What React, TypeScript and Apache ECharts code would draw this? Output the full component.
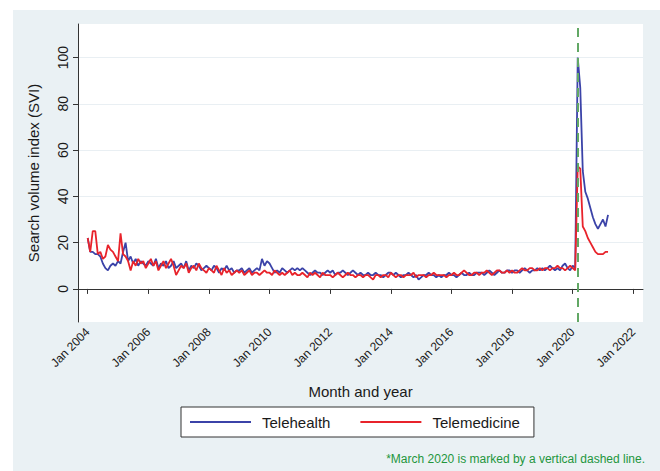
import React, { useEffect, useRef } from "react";
import * as echarts from "echarts";

// Monthly Google Trends search volume index, Jan 2004 – Mar 2021
const START_YEAR = 2004;
const START_MONTH = 1;

const telehealth: number[] = [
  // 2004
  22, 16, 16, 15, 15, 14, 11, 9, 8, 10, 11, 10,
  // 2005
  12, 11, 16, 20, 12, 14, 11, 13, 10, 12, 11, 10,
  // 2006
  12, 11, 10, 13, 9, 11, 10, 12, 9, 10, 12, 9,
  // 2007
  10, 11, 9, 12, 8, 10, 9, 11, 10, 8, 9, 10,
  // 2008
  9, 8, 10, 9, 7, 9, 8, 10, 8, 9, 7, 8,
  // 2009
  8, 9, 7, 8, 9, 7, 8, 9, 8, 13, 10, 12,
  // 2010
  11, 9, 7, 8, 7, 9, 8, 7, 8, 9, 8, 9,
  // 2011
  8, 9, 8, 7, 6, 7, 8, 7, 7, 6, 7, 8,
  // 2012
  7, 8, 6, 7, 7, 8, 7, 6, 7, 8, 7, 6,
  // 2013
  7, 6, 6, 7, 6, 6, 7, 6, 6, 5, 6, 7,
  // 2014
  7, 6, 7, 6, 5, 6, 6, 7, 6, 5, 6, 4,
  // 2015
  5, 6, 6, 7, 6, 6, 5, 6, 5, 6, 6, 7,
  // 2016
  6, 6, 5, 6, 7, 6, 6, 7, 6, 6, 7, 7,
  // 2017
  7, 6, 7, 8, 7, 6, 7, 8, 7, 7, 8, 8,
  // 2018
  7, 8, 8, 7, 8, 9, 8, 7, 8, 8, 9, 8,
  // 2019
  9, 8, 9, 10, 9, 8, 9, 8, 10, 11, 9, 8,
  // 2020
  10, 9, 100, 87, 51, 42, 39, 35, 31, 28, 26, 28,
  // 2021
  30, 27, 32,
];

const telemedicine: number[] = [
  // 2004
  22, 16, 25, 25, 15, 16, 13, 14, 19, 17, 16, 14,
  // 2005
  12, 24, 15, 14, 12, 8, 12, 10, 13, 11, 12, 9,
  // 2006
  11, 13, 10, 12, 8, 10, 12, 9, 11, 13, 10, 6,
  // 2007
  8, 10, 9, 11, 7, 9, 10, 8, 11, 9, 8, 7,
  // 2008
  9, 8, 7, 10, 8, 6, 9, 7, 8, 6, 7, 8,
  // 2009
  7, 8, 6, 7, 8, 6, 7, 7, 6, 7, 8, 7,
  // 2010
  7, 6, 8, 7, 6, 7, 6, 7, 8, 6, 7, 6,
  // 2011
  6, 7, 6, 5, 7, 6, 7, 6, 5, 7, 6, 6,
  // 2012
  6, 5, 6, 7, 6, 5, 6, 7, 6, 6, 5, 6,
  // 2013
  6, 5, 6, 6, 5, 4, 6, 6, 5, 6, 6, 5,
  // 2014
  7, 6, 5, 6, 6, 5, 6, 6, 6, 7, 5, 6,
  // 2015
  6, 6, 5, 6, 6, 7, 6, 6, 6, 6, 5, 6,
  // 2016
  6, 7, 6, 6, 7, 8, 7, 6, 6, 7, 7, 6,
  // 2017
  7, 7, 8, 7, 6, 7, 8, 8, 7, 7, 8, 7,
  // 2018
  8, 7, 7, 8, 9, 8, 8, 9, 9, 8, 8, 9,
  // 2019
  8, 9, 9, 8, 9, 9, 10, 9, 9, 8, 9, 10,
  // 2020
  9, 8, 53, 52, 27, 25, 22, 20, 18, 16, 15, 15,
  // 2021
  15, 16, 16,
];

const xTickYears = [2004, 2006, 2008, 2010, 2012, 2014, 2016, 2018, 2020, 2022];
const yTicks = [0, 20, 40, 60, 80, 100];
const seriesNames = ["Telehealth", "Telemedicine"];
const markerYear = 2020;
const markerMonth = 3; // March 2020
const footnote = "*March 2020 is marked by a vertical dashed line.";

const FONT = "'Liberation Sans', Arial, Helvetica, sans-serif";
const TEXT = "#1a1a1a";
const BLUE = "#3b43a8";
const RED = "#e8232b";

// month index -> fractional year
const toYear = (i: number) => START_YEAR + (START_MONTH - 1 + i) / 12;
const toPoints = (vals: number[]) => vals.map((v, i) => [toYear(i), v]);

export default function App() {
  const ref = useRef<HTMLDivElement>(null);

  useEffect(() => {
    if (!ref.current) return;
    const chart = echarts.init(ref.current, undefined, { renderer: "svg" });

    chart.setOption({
      animation: false,
      backgroundColor: "#ffffff",
      textStyle: { fontFamily: FONT },
      graphic: [
        {
          type: "rect",
          z: -10,
          silent: true,
          shape: { x: 13, y: 10, width: 660, height: 480 },
          style: { fill: "#eaf1f4" },
        },
        {
          type: "text",
          right: 15,
          top: 453,
          silent: true,
          style: {
            text: footnote,
            fill: "#23963c",
            font: `12px ${FONT}`,
          },
        },
      ],
      grid: {
        left: 78,
        top: 24,
        right: 17,
        bottom: 149,
        show: true,
        backgroundColor: "#ffffff",
        borderWidth: 0,
      },
      legend: {
        top: 407,
        left: 181,
        data: seriesNames,
        icon: "rect",
        borderColor: "#333333",
        borderWidth: 1,
        borderRadius: 0,
        backgroundColor: "#ffffff",
        padding: [6, 14, 6, 9],
        itemWidth: 61,
        itemHeight: 2,
        itemGap: 30,
        textStyle: {
          fontFamily: FONT,
          fontSize: 15,
          color: TEXT,
          lineHeight: 18,
          padding: [0, 0, 0, 6],
        },
      },
      xAxis: {
        type: "value",
        min: 2003.68,
        max: 2022.32,
        name: "Month and year",
        nameLocation: "middle",
        nameGap: 62,
        nameTextStyle: { fontFamily: FONT, fontSize: 15, color: TEXT },
        axisLine: { show: true, lineStyle: { color: "#333333", width: 1 } },
        axisTick: {
          show: true,
          length: 5,
          customValues: xTickYears,
          lineStyle: { color: "#333333" },
        },
        axisLabel: {
          customValues: xTickYears,
          rotate: 45,
          margin: 8,
          fontFamily: FONT,
          fontSize: 12,
          color: TEXT,
          formatter: (v: number) => `Jan ${v}`,
        },
        splitLine: { show: false },
      },
      yAxis: {
        type: "value",
        min: -14.3,
        max: 114.5,
        name: "Search volume index (SVI)",
        nameLocation: "middle",
        nameGap: 37,
        nameTextStyle: { fontFamily: FONT, fontSize: 15, color: TEXT },
        axisLine: { show: true, lineStyle: { color: "#333333", width: 1 } },
        axisTick: {
          show: true,
          length: 5,
          customValues: yTicks,
          lineStyle: { color: "#333333" },
        },
        axisLabel: {
          customValues: yTicks,
          rotate: 90,
          margin: 8,
          fontFamily: FONT,
          fontSize: 14,
          color: TEXT,
        },
        splitLine: {
          show: true,
          lineStyle: { color: "#e9eff3", width: 1 },
        },
      },
      series: [
        {
          name: seriesNames[0],
          type: "line",
          data: toPoints(telehealth),
          symbol: "none",
          showSymbol: false,
          lineStyle: { color: BLUE, width: 1.8 },
          itemStyle: { color: BLUE },
          z: 3,
          markLine: {
            silent: true,
            symbol: "none",
            label: { show: false },
            lineStyle: { color: "#62a865", width: 2, type: [9, 6] },
            data: [{ xAxis: markerYear + (markerMonth - 1) / 12 }],
          },
        },
        {
          name: seriesNames[1],
          type: "line",
          data: toPoints(telemedicine),
          symbol: "none",
          showSymbol: false,
          lineStyle: { color: RED, width: 1.8 },
          itemStyle: { color: RED },
          z: 4,
        },
      ],
    });

    return () => chart.dispose();
  }, []);

  return (
    <div
      ref={ref}
      style={{ position: "fixed", left: 0, top: 0, width: 660, height: 471 }}
    />
  );
}
